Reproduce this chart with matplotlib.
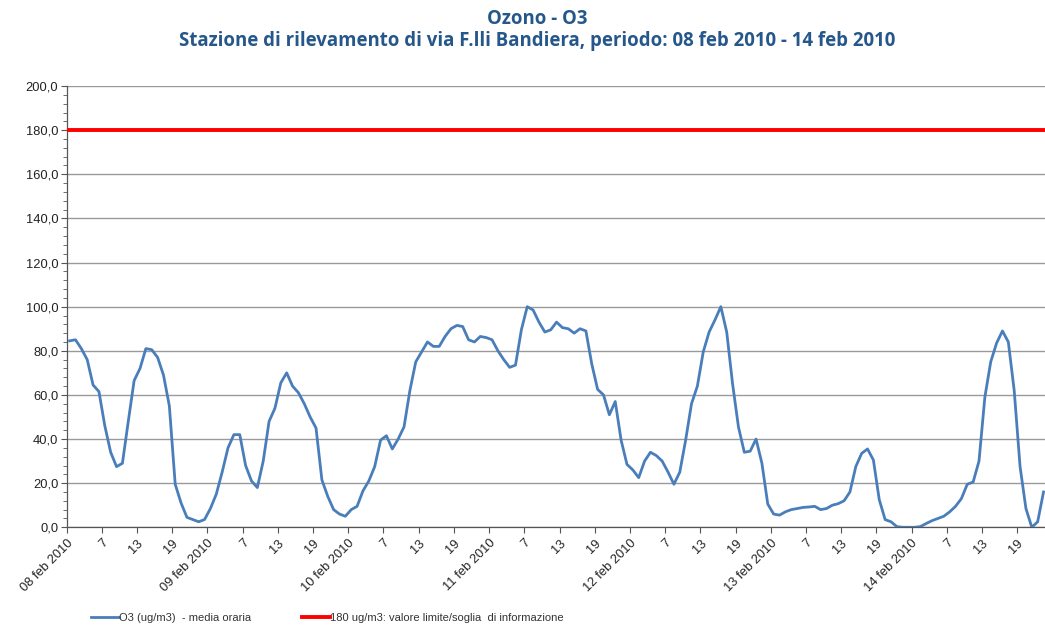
import matplotlib
matplotlib.use("Agg")
import matplotlib.pyplot as plt
from matplotlib.ticker import MultipleLocator

# ---- data ----
o3_values = [
    84.5, 85, 81, 76, 64.5, 61.5, 46, 34, 27.5, 29, 48, 66.5, 72, 81, 80.5, 77, 69, 55, 19.5, 11, 4.5, 3.5, 2.5, 3.5,
    8.5, 15, 25, 36, 42, 42, 28, 21, 18, 30, 48, 54, 65.5, 70, 64, 61, 56, 50, 45, 21.5, 14, 8, 6, 5,
    8, 9.5, 16.5, 21, 27.5, 39.5, 41.5, 35.5, 40, 45.5, 62, 75, 79.5, 84, 82, 82, 86.5, 90, 91.5, 91, 85, 84,
    86.5, 86, 85, 80, 76, 72.5, 73.5, 89.5, 100, 98.5, 93, 88.5, 89.5, 93, 90.5, 90, 88, 90, 89, 74, 62.5, 60,
    51, 57, 39.5, 28.5, 26, 22.5, 30, 34, 32.5, 30, 25, 19.5, 25, 39.5, 56, 64, 79.5, 88.5, 94, 100, 88.5, 65,
    45.5, 34, 34.5, 40, 29, 10.5, 6, 5.5, 7, 8, 8.5, 9, 9.2, 9.5, 8, 8.5, 10, 10.7, 12, 16, 27.5, 33.5, 35.5,
    30.5, 12.5, 3.5, 2.5, 0.3, 0, 0, 0, 0.3, 1.7, 3, 4, 5, 7, 9.5, 13, 19.5, 20.5, 30, 59, 75, 83.5, 89, 84,
    62, 27.5, 8.5, 0, 2.5, 16,
]
threshold = 180
days = ["08 feb 2010", "09 feb 2010", "10 feb 2010", "11 feb 2010",
        "12 feb 2010", "13 feb 2010", "14 feb 2010"]
hour_labels = ["7", "13", "19"]
series_label = "O3 (ug/m3)  - media oraria"
threshold_label = "180 ug/m3: valore limite/soglia  di informazione"
title_lines = ["Ozono - O3",
               "Stazione di rilevamento di via F.lli Bandiera, periodo: 08 feb 2010 - 14 feb 2010"]

tick_labels = []
for d in days:
    tick_labels.append(d)
    tick_labels.extend(hour_labels)

# ---- figure ----
fig = plt.figure(figsize=(10.45, 6.26), dpi=100)
ax = fig.add_axes([0.0638, 0.1577, 0.9362, 0.7048])

xs = [i + 0.5 for i in range(len(o3_values))]
n_total = 24 * len(days)
ax.plot(xs, o3_values, color="#4A7EBB", lw=2.0, solid_joinstyle="round", zorder=3,
        label=series_label)
ax.axhline(threshold, color="#FF0000", lw=2.8, zorder=3, label=threshold_label)

ax.set_xlim(0, 166.75)
ax.set_ylim(0, 200)

ax.yaxis.set_minor_locator(MultipleLocator(4))
yt = list(range(0, 201, 20))
ax.set_yticks(yt)
ax.set_yticklabels([f"{v:.1f}".replace(".", ",") for v in yt])

tick_pos = list(range(0, n_total, 6))[:len(tick_labels)]
ax.set_xticks(tick_pos)
ax.set_xticklabels(tick_labels, rotation=45, ha="right", va="top", rotation_mode="anchor")

for lab in ax.get_xticklabels() + ax.get_yticklabels():
    lab.set_fontfamily("Liberation Sans")
    lab.set_fontsize(9.3)
    lab.set_color("#222222")

ax.tick_params(axis="x", which="major", length=4, width=0.8, color="#555555", pad=3)
ax.tick_params(axis="y", which="major", length=4, width=0.8, color="#555555", pad=2)
ax.tick_params(axis="y", which="minor", length=3, width=0.6, color="#555555")

ax.grid(axis="y", which="major", color="#9A9A9A", lw=1.0, zorder=1)
ax.set_axisbelow(True)
for s in ["top", "right"]:
    ax.spines[s].set_visible(False)
ax.spines["left"].set_color("#555555")
ax.spines["bottom"].set_color("#555555")
ax.spines["left"].set_linewidth(0.9)
ax.spines["bottom"].set_linewidth(0.9)

fig.text(0.514, 0.969, title_lines[0], ha="center", va="center", fontsize=13.4,
         fontweight="bold", color="#25578A", family="Open Sans")
fig.text(0.514, 0.934, title_lines[1], ha="center", va="center", fontsize=13.4,
         fontweight="bold", color="#25578A", family="Open Sans")

leg = fig.legend(loc="center left", bbox_to_anchor=(0.079, 0.013), ncol=2, frameon=False,
                 prop={"family": "Liberation Sans", "size": 8}, handlelength=2.5,
                 handletextpad=0.0, columnspacing=4.6, borderpad=0.3)
for t in leg.get_texts():
    t.set_color("#333333")

fig.savefig("out.png", dpi=100)
